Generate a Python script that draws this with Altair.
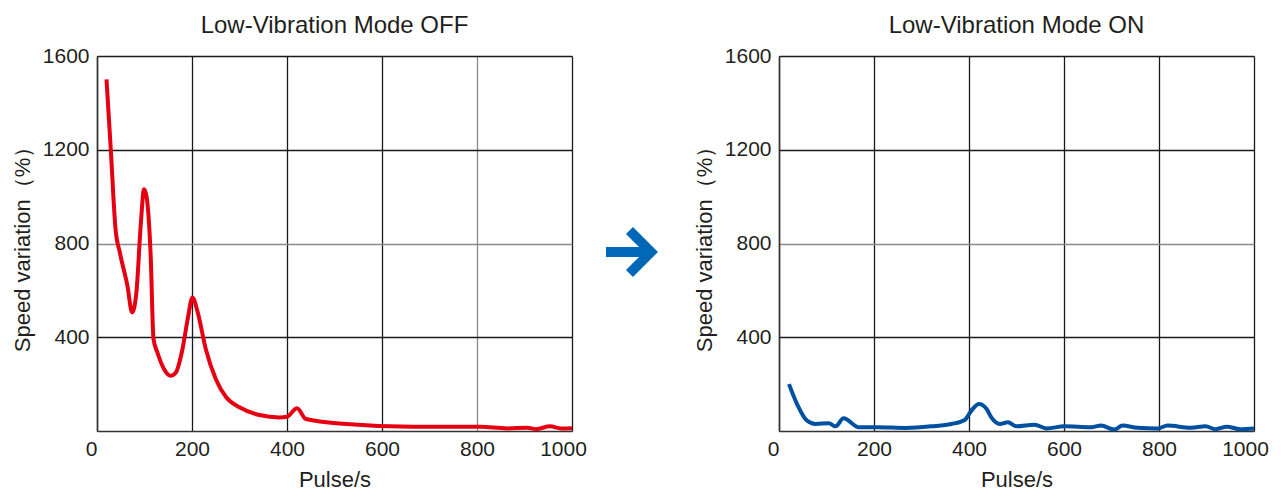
import altair as alt
import pandas as pd

# Low-Vibration Mode OFF
off_pulse = [20, 29, 39, 48, 64, 74, 83, 92, 99, 104, 113, 119, 127, 141, 155, 166, 180, 191, 201, 212,
             229, 250, 272, 300, 342, 384, 400, 421, 440, 525, 666, 807, 863, 906, 924, 954, 977, 1000]
off_var = [1500, 1203, 862, 762, 620, 506, 592, 876, 1032, 1004, 748, 392, 336, 265, 236, 250, 350, 478, 570, 506,
           350, 222, 144, 101, 68, 58, 61, 97, 51, 30, 18, 18, 11, 14, 8, 20, 11, 12]

# Low-Vibration Mode ON
on_pulse = [21, 38, 59, 77, 105, 119, 136, 168, 210, 266, 321, 363, 391, 405, 421, 437, 447, 465, 482, 500,
            538, 563, 601, 657, 678, 706, 723, 755, 797, 818, 867, 898, 919, 943, 971, 1000]
on_var = [200, 115, 44, 30, 33, 20, 54, 16, 16, 13, 20, 30, 47, 87, 115, 94, 58, 30, 37, 20,
          27, 11, 20, 16, 23, 6, 23, 14, 11, 23, 14, 20, 8, 18, 8, 11]

x_ticks = [0, 200, 400, 600, 800, 1000]
y_ticks = [400, 800, 1200, 1600]
titles = ["Low-Vibration Mode OFF", "Low-Vibration Mode ON"]

FONT = "Liberation Sans"
TXT = "#231f20"

off_df = pd.DataFrame({"pulse": off_pulse, "var": off_var})
on_df = pd.DataFrame({"pulse": on_pulse, "var": on_var})


def panel(df, color, title, vgrid800):
    x_axis = alt.Axis(
        values=x_ticks, format="d", title="Pulse/s", grid=True, ticks=False, labelPadding=7,
        labelFontSize=21, titleFontSize=22, titleFontWeight="normal", titlePadding=10,
        labelColor=TXT, titleColor=TXT, labelFont=FONT, titleFont=FONT,
        domainColor="#333333", domainWidth=1.5, labelFlush=False,
        labelAlign={"condition": {"test": "datum.value == 0", "value": "right"}, "value": "center"},
        labelOffset={"condition": {"test": "datum.value == 1000", "value": -9}, "value": 0},
        gridColor={"condition": {"test": "datum.value == 800", "value": vgrid800}, "value": "#1a1a1a"},
        gridWidth=1.3,
    )
    y_axis = alt.Axis(
        values=y_ticks, format="d", title="Speed variation（%）", grid=True, ticks=False, labelPadding=8,
        labelFontSize=21, titleFontSize=22, titleFontWeight="normal", titlePadding=8,
        labelColor=TXT, titleColor=TXT, labelFont=FONT, titleFont=FONT,
        domainColor="#333333", domainWidth=1.5, labelFlush=False,
        gridColor={"condition": {"test": "datum.value == 800", "value": "#8a8a8a"}, "value": "#1a1a1a"},
        gridWidth=1.3,
    )
    return alt.Chart(df).mark_line(color=color, strokeWidth=4, interpolate="monotone").encode(
        x=alt.X("pulse:Q", scale=alt.Scale(domain=[0, 1000], nice=False, zero=True), axis=x_axis),
        y=alt.Y("var:Q", scale=alt.Scale(domain=[0, 1600], nice=False), axis=y_axis),
    ).properties(
        width=475, height=375,
        title=alt.TitleParams(title, fontSize=24, fontWeight="normal", font=FONT, color=TXT, offset=7),
    )


left = panel(off_df, "#e50012", titles[0], "#8a8a8a")
right_line = panel(on_df, "#0050a2", titles[1], "#1a1a1a")

arrow_path = ("M -1 -0.192 L 0.269 -0.192 L -0.231 -0.692 L 0.038 -0.962 L 1 0 "
              "L 0.038 0.962 L -0.231 0.692 L 0.269 0.192 L -1 0.192 Z")
arrow = alt.Chart(pd.DataFrame({"a": [0]})).mark_point(
    shape=arrow_path, filled=True, color="#0068b6", opacity=1, size=2704, strokeWidth=0
).encode(x=alt.value(-147), y=alt.value(196))

right = alt.layer(right_line, arrow)

chart = alt.hconcat(left, right, spacing=207, bounds="flush").configure_view(
    stroke="#333333", strokeWidth=1.5
).configure(font=FONT).properties(
    padding={"left": 2, "top": 5, "right": 5, "bottom": 0}
)

chart.save("out.html", embed_options={"renderer": "svg", "actions": False})
